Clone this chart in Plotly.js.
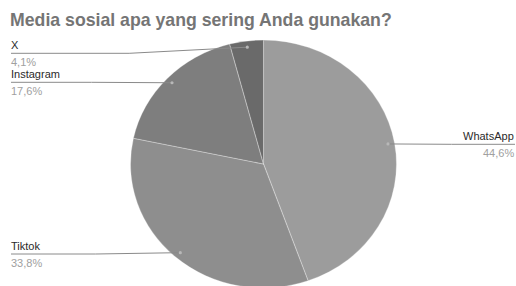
<!DOCTYPE html>
<html><head><meta charset="utf-8">
<script src="https://cdn.plot.ly/plotly-3.0.1.min.js"></script>
<style>html,body{margin:0;padding:0;overflow:hidden;background:#fff}</style>
</head><body><div id="chart" style="width:516px;height:288px"></div>
<script>
const labels = ["WhatsApp", "Tiktok", "Instagram", "X"];
const values = [44.6, 33.8, 17.6, 4.1];
const percentText = ["44,6%", "33,8%", "17,6%", "4,1%"];
const sliceColors = ["#9c9c9c", "#8e8e8e", "#7e7e7e", "#6a6a6a"];

// layout geometry (pixels)
const W = 516, H = 288, T = 40, PH = H - T;
const cx = 263.5, cy = T + PH / 2, R = PH / 2;
const SX = 133 / 124; // horizontal stretch of the pie, as in the reference
const xp = px => px / W;
const yp = py => 1 - (py - T) / PH;

const labelSide = ["right", "left", "left", "left"];
const labelLineY = [144.3, 254, 82.3, 53.3];
const leftX = 11, rightX = 515;

const total = values.reduce((a, b) => a + b, 0);
let cum = 0;
const shapes = [], annotations = [];
values.forEach((v, i) => {
  const mid = (cum + v / 2) / total * 2 * Math.PI;
  cum += v;
  const dx = cx + 0.95 * R * SX * Math.sin(mid);
  const dy = cy - 0.95 * R * Math.cos(mid);
  const ly = labelLineY[i];
  const tx = labelSide[i] === "left" ? leftX : rightX;
  const bx = (tx + dx) / 2;
  shapes.push({
    type: "path", xref: "paper", yref: "paper",
    path: `M ${xp(tx)} ${yp(ly)} L ${xp(bx)} ${yp(ly)} L ${xp(dx)} ${yp(dy)}`,
    line: {color: "#8a8a8a", width: 1}
  });
  const r = 1.6;
  shapes.push({
    type: "circle", xref: "paper", yref: "paper",
    x0: xp(dx - r), x1: xp(dx + r), y0: yp(dy + r), y1: yp(dy - r),
    fillcolor: "#b8b8b8", line: {width: 0}
  });
  const anchor = labelSide[i] === "left" ? "left" : "right";
  const ax = labelSide[i] === "left" ? leftX - 2 : rightX + 1;
  annotations.push({
    xref: "paper", yref: "paper", x: xp(ax), y: yp(ly - 0.5),
    xanchor: anchor, yanchor: "bottom", showarrow: false,
    text: labels[i], font: {family: "Liberation Sans, Arial, sans-serif", size: 11, color: "#2a2a2a"}
  });
  annotations.push({
    xref: "paper", yref: "paper", x: xp(ax), y: yp(ly + 0.5),
    xanchor: anchor, yanchor: "top", showarrow: false,
    text: percentText[i], font: {family: "Liberation Sans, Arial, sans-serif", size: 11, color: "#a0a0a0"}
  });
});

const data = [{
  type: "pie",
  labels: labels,
  values: values,
  sort: false,
  direction: "clockwise",
  rotation: 0,
  textinfo: "none",
  textposition: "none",
  hoverinfo: "none",
  marker: {colors: sliceColors, line: {color: "rgba(255,255,255,0.3)", width: 1}},
  domain: {x: [xp(cx - 200), xp(cx + 200)], y: [0, 1]}
}];

const layout = {
  width: W, height: H,
  margin: {l: 0, r: 0, t: T, b: 0, pad: 0},
  showlegend: false,
  paper_bgcolor: "#ffffff",
  title: {
    text: "<b>Media sosial apa yang sering Anda gunakan?</b>",
    font: {family: "Liberation Sans, Arial, sans-serif", size: 17.7, color: "#757575"},
    x: 10 / W, xref: "container", xanchor: "left",
    y: 1 - 20 / H, yref: "container", yanchor: "middle"
  },
  shapes: shapes,
  annotations: annotations
};

Plotly.newPlot("chart", data, layout, {displayModeBar: false, staticPlot: true}).then(gd => {
  const pl = gd.querySelector("g.pielayer");
  if (pl) pl.setAttribute("transform", `translate(${cx},0) scale(${SX},1) translate(${-cx},0)`);
});
</script></body></html>
